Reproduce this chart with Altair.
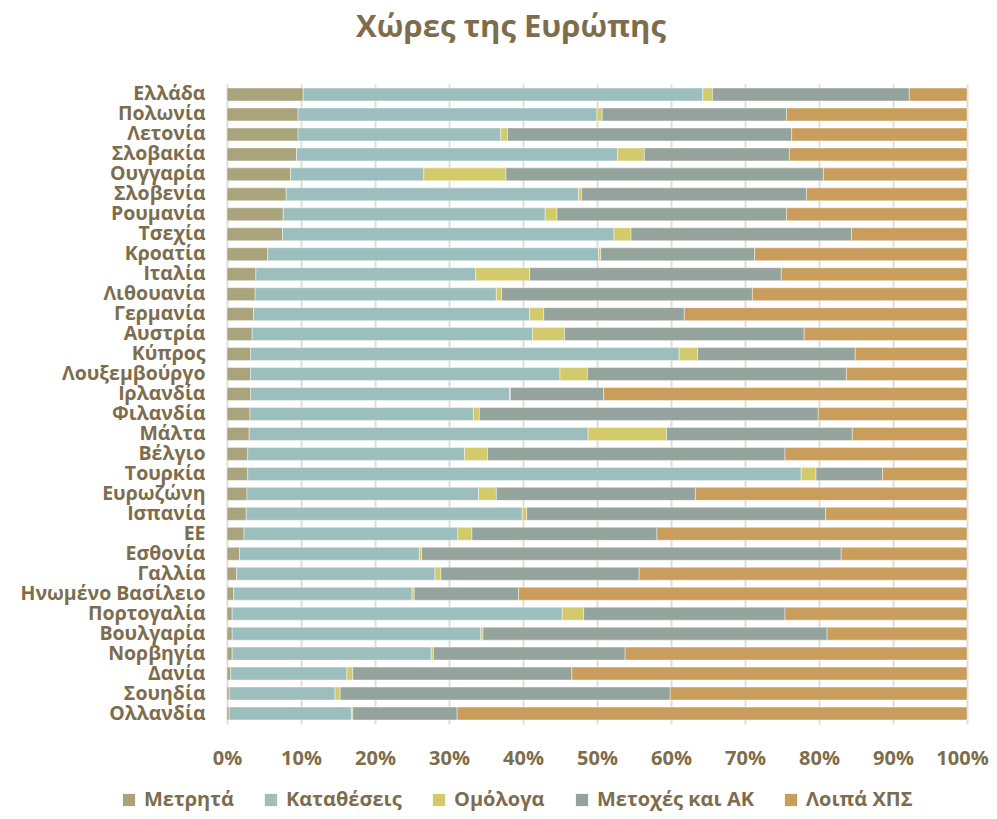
import altair as alt
import pandas as pd

countries = ["Ελλάδα", "Πολωνία", "Λετονία", "Σλοβακία", "Ουγγαρία", "Σλοβενία", "Ρουμανία",
             "Τσεχία", "Κροατία", "Ιταλία", "Λιθουανία", "Γερμανία", "Αυστρία", "Κύπρος",
             "Λουξεμβούργο", "Ιρλανδία", "Φιλανδία", "Μάλτα", "Βέλγιο", "Τουρκία", "Ευρωζώνη",
             "Ισπανία", "ΕΕ", "Εσθονία", "Γαλλία", "Ηνωμένο Βασίλειο", "Πορτογαλία", "Βουλγαρία",
             "Νορβηγία", "Δανία", "Σουηδία", "Ολλανδία"]

categories = ["Μετρητά", "Καταθέσεις", "Ομόλογα", "Μετοχές και ΑΚ", "Λοιπά ΧΠΣ"]

cash = [10.3, 9.6, 9.6, 9.4, 8.6, 8.0, 7.6, 7.5, 5.5, 3.9, 3.8, 3.6, 3.4, 3.2, 3.2, 3.2,
        3.1, 3.0, 2.8, 2.8, 2.7, 2.6, 2.3, 1.7, 1.3, 0.9, 0.7, 0.7, 0.7, 0.5, 0.3, 0.3]
deposits = [54.0, 40.4, 27.4, 43.4, 18.0, 39.5, 35.4, 44.8, 44.7, 29.7, 32.6, 37.3, 37.9, 57.9, 41.8, 35.0,
            30.2, 45.8, 29.3, 74.8, 31.3, 37.3, 28.9, 24.3, 26.8, 24.1, 44.6, 33.6, 26.9, 15.7, 14.3, 16.5]
bonds = [1.3, 0.7, 0.9, 3.6, 11.1, 0.4, 1.6, 2.3, 0.3, 7.3, 0.7, 1.9, 4.3, 2.5, 3.7, 0.1,
         0.8, 10.6, 3.1, 2.0, 2.4, 0.6, 1.9, 0.3, 0.8, 0.3, 2.9, 0.3, 0.3, 0.8, 0.7, 0.2]
equities = [26.6, 24.9, 38.4, 19.6, 42.9, 30.4, 31.0, 29.8, 20.8, 34.0, 33.9, 19.0, 32.4, 21.3, 35.0, 12.6,
            45.8, 25.1, 40.2, 9.0, 26.9, 40.4, 25.0, 56.7, 26.8, 14.1, 27.2, 46.5, 25.9, 29.6, 44.6, 14.1]
other = [7.8, 24.4, 23.7, 24.0, 19.4, 21.7, 24.4, 15.6, 28.7, 25.1, 29.0, 38.2, 22.0, 15.1, 16.3, 49.1,
         20.1, 15.5, 24.6, 11.4, 36.7, 19.1, 41.9, 17.0, 44.3, 60.6, 24.6, 18.9, 46.2, 53.4, 40.1, 68.9]

colors = ["#a9a47b", "#9cbfbe", "#d3ca6b", "#94a39b", "#c99e5c"]
x_ticks = [0, 0.1, 0.2, 0.3, 0.4, 0.5, 0.6, 0.7, 0.8, 0.9, 1.0]

series = [cash, deposits, bonds, equities, other]
rows = []
for ci, (cat, vals) in enumerate(zip(categories, series)):
    for country, v in zip(countries, vals):
        rows.append({"country": country, "category": cat, "value": v, "order": ci})
df = pd.DataFrame(rows)

TEXT = "#7d6d4c"
FONT = "Open Sans"

chart = alt.Chart(df).mark_bar(stroke="#ffffff", strokeWidth=0.6, strokeOpacity=0.7).encode(
    y=alt.Y("country:N", sort=countries,
            scale=alt.Scale(paddingInner=0.35, paddingOuter=0.2),
            axis=alt.Axis(title=None, domain=False, ticks=False, labelPadding=22,
                          labelFontSize=19.5, labelFontWeight="bold", labelColor=TEXT,
                          labelFont=FONT, labelLimit=300)),
    x=alt.X("value:Q", stack="normalize",
            scale=alt.Scale(domain=[0, 1]),
            axis=alt.Axis(title=None, values=x_ticks, format=".0%", domain=False, ticks=False,
                          labelPadding=24, labelFontSize=20, labelFontWeight="bold",
                          labelFlush=False, labelColor=TEXT, labelFont=FONT,
                          labelOffset={"condition": {"test": "datum.value === 1", "value": -5},
                                       "value": 0},
                          gridColor="#e2ded6", gridWidth=2)),
    color=alt.Color("category:N", sort=categories,
                    scale=alt.Scale(domain=categories, range=colors),
                    legend=alt.Legend(title=None, orient="none", direction="horizontal",
                                      legendX=-108, legendY=706, symbolType="square",
                                      symbolSize=150, symbolStrokeWidth=0, labelFontSize=20,
                                      labelFontWeight="bold", labelColor=TEXT, labelFont=FONT,
                                      columnPadding=27, labelOffset=5, labelLimit=300)),
    order=alt.Order("order:Q", sort="ascending"),
).properties(
    width=740,
    height=640,
    title=alt.TitleParams("Χώρες της Ευρώπης", fontSize=31, font="Open Sans", fontWeight="bold",
                          color=TEXT, anchor="middle", frame="group", dx=-86, offset=16,
                          baseline="alphabetic"),
    autosize=alt.AutoSizeParams(type="none"),
    padding={"left": 219, "top": 76, "right": 22, "bottom": 87},
).configure_view(stroke=None)

chart.save("out.html", embed_options={"renderer": "svg", "actions": False})
